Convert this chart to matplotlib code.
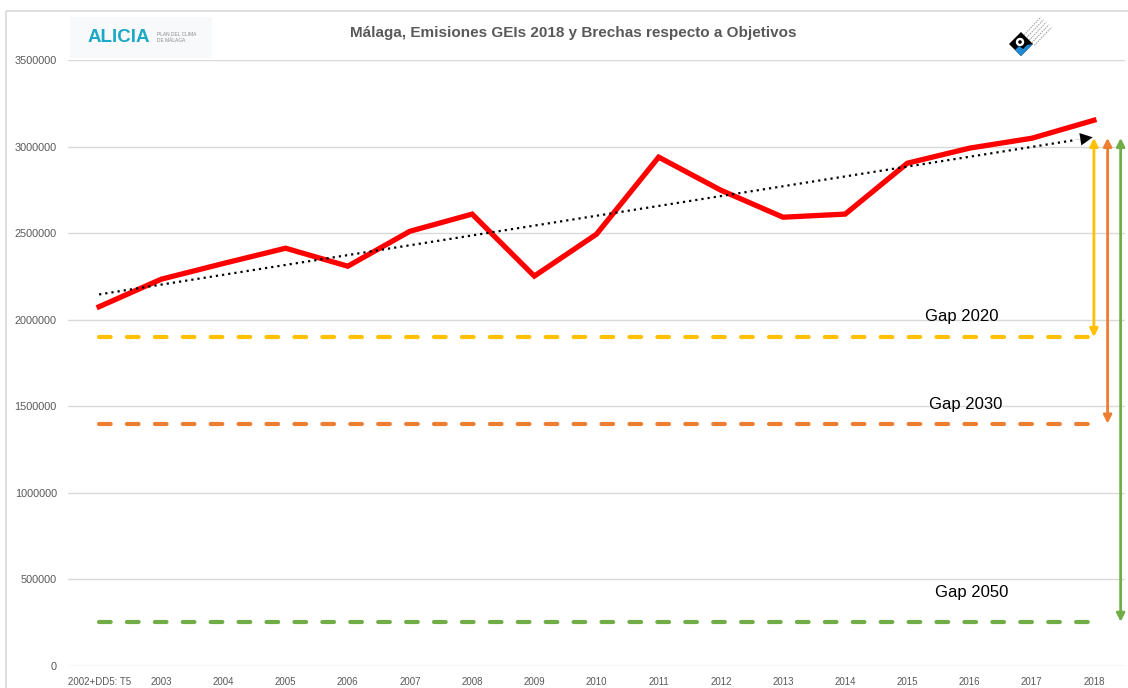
import numpy as np
import matplotlib
matplotlib.use("Agg")
import matplotlib.pyplot as plt
from matplotlib.patches import Rectangle, Polygon, Circle
from matplotlib.lines import Line2D

# ---------------- data ----------------
categories = ["2002+DD5: T5", "2003", "2004", "2005", "2006", "2007", "2008", "2009",
              "2010", "2011", "2012", "2013", "2014", "2015", "2016", "2017", "2018"]
emissions = [2075000, 2234000, 2325000, 2413000, 2309000, 2511000, 2610000, 2252000,
             2494000, 2939000, 2748000, 2592000, 2610000, 2904000, 2991000, 3048000, 3152000]
target_2020 = 1900000
target_2030 = 1400000
target_2050 = 255000
gap_top = 3050000
yticks = [0, 500000, 1000000, 1500000, 2000000, 2500000, 3000000, 3500000]
title = "Málaga, Emisiones GEIs 2018 y Brechas respecto a Objetivos"

RED = "#FF0000"
YEL = "#FFC000"
ORA = "#ED7D31"
GRN = "#70AD47"
GRID = "#D9D9D9"
GRAY = "#595959"
SANS = ["Liberation Sans", "DejaVu Sans"]

W, H = 1128, 688
fig = plt.figure(figsize=(W / 100, H / 100), dpi=100)
fig.patch.set_facecolor("white")

ax = fig.add_axes([68 / W, (H - 666) / H, (1125 - 68) / W, 606 / H])
x = np.arange(len(categories))

# grid
ax.set_ylim(0, 3500000)
ax.set_xlim(-0.5, len(categories) - 0.5)
ax.set_yticks(yticks)
ax.set_yticklabels([str(v) for v in yticks], fontfamily=SANS, fontsize=7.8, color=GRAY)
ax.set_xticks(x)
ax.set_xticklabels(categories, fontfamily=SANS, fontsize=7.0, color=GRAY)
ax.tick_params(axis="both", length=0)
ax.tick_params(axis="y", pad=8)
ax.tick_params(axis="x", pad=8)
for s in ax.spines.values():
    s.set_visible(False)
ax.grid(axis="y", color=GRID, lw=1.0)
ax.set_axisbelow(True)

# target lines
dash = dict(lw=3.0, dashes=(2.8, 3.9), dash_capstyle="round", solid_capstyle="round")
ax.plot(x, [target_2020] * len(x), color=YEL, **dash, zorder=2)
ax.plot(x, [target_2030] * len(x), color=ORA, **dash, zorder=2)
ax.plot(x, [target_2050] * len(x), color=GRN, **dash, zorder=2)

# emissions
ax.plot(x, emissions, color=RED, lw=3.8, solid_joinstyle="miter", zorder=3)

# trend line
coef = np.polyfit(x, emissions, 1)
xt = np.array([0, len(x) - 1.3])
ax.plot(xt, np.polyval(coef, xt), color="black", lw=1.6, ls=(0, (1, 1.8)), zorder=4)
ax.annotate("", xy=(len(x) - 1.02, np.polyval(coef, len(x) - 1.02)),
            xytext=(len(x) - 1.3, np.polyval(coef, len(x) - 1.3)),
            arrowprops=dict(arrowstyle="-|>", color="black", lw=0.1,
                            mutation_scale=22, shrinkA=0, shrinkB=0), zorder=5)

# gap arrows
for xa, yb, c in [(16.0, target_2020, YEL), (16.22, target_2030, ORA), (16.43, target_2050, GRN)]:
    ax.annotate("", xy=(xa, yb), xytext=(xa, gap_top),
                arrowprops=dict(arrowstyle="<|-|>", color=c, lw=2.0,
                                mutation_scale=12, shrinkA=0, shrinkB=0), zorder=5)

# gap labels
ax.text(13.87, 2020000, "Gap 2020", ha="center", va="center", fontsize=12, fontfamily=SANS, color="black")
ax.text(13.94, 1513000, "Gap 2030", ha="center", va="center", fontsize=12, fontfamily=SANS, color="black")
ax.text(14.03, 427000, "Gap 2050", ha="center", va="center", fontsize=12, fontfamily=SANS, color="black")

# ---------------- overlay (pixel coords) ----------------
ov = fig.add_axes([0, 0, 1, 1], zorder=-5)
ov.set_xlim(0, W)
ov.set_ylim(H, 0)
ov.axis("off")
ov.add_patch(Rectangle((6, 11), W, H, fill=False, ec="#D9D9D9", lw=1.2))

ov2 = fig.add_axes([0, 0, 1, 1], zorder=10)
ov2.set_xlim(0, W)
ov2.set_ylim(H, 0)
ov2.axis("off")
ov2.patch.set_alpha(0)

fig.text(573 / W, 1 - 33.5 / H, title, ha="center", va="center", fontsize=11,
         fontweight="bold", color=GRAY, fontfamily=SANS)

# ALICIA logo
ov2.add_patch(Rectangle((70, 17), 142, 41, fc="#F8F9FB", ec="none"))
ov2.text(88, 38, "ALICIA", fontsize=13.5, fontweight="bold", color="#1BA9C6",
         fontfamily=SANS, ha="left", va="center")
ov2.text(157, 35, "PLAN DEL CLIMA", fontsize=3.5, color="#8A8A8A", fontfamily=SANS, ha="left", va="center")
ov2.text(157, 40, "DE MÁLAGA", fontsize=3.5, color="#8A8A8A", fontfamily=SANS, ha="left", va="center")

# right logo
cx, cy, r = 1021, 44, 12
ov2.add_patch(Polygon([(cx, cy - r), (cx + r, cy), (cx, cy + r), (cx - r, cy)], closed=True, fc="black", ec="none"))
ov2.add_patch(Polygon([(cx - 6, cy + 6), (cx - 2, cy + 2), (cx + 2, cy + 5), (cx + 6, cy + 1),
                       (cx + r, cy), (cx, cy + r)], closed=True, fc="#1E88D0", ec="none"))
ov2.add_patch(Circle((cx - 1, cy - 2), 4.2, fc="white", ec="none"))
ov2.add_patch(Circle((cx - 1, cy - 2), 1.8, fc="black", ec="none"))
for i in range(5):
    ov2.add_line(Line2D([cx + 3 + i * 2.6, cx + 20 + i * 2.6], [cy - 9 + i * 2.6, cy - 27 + i * 2.6],
                        color="#9A9A9A", lw=0.7, ls=(0, (1.5, 1))))

fig.savefig("out.png", dpi=100)
